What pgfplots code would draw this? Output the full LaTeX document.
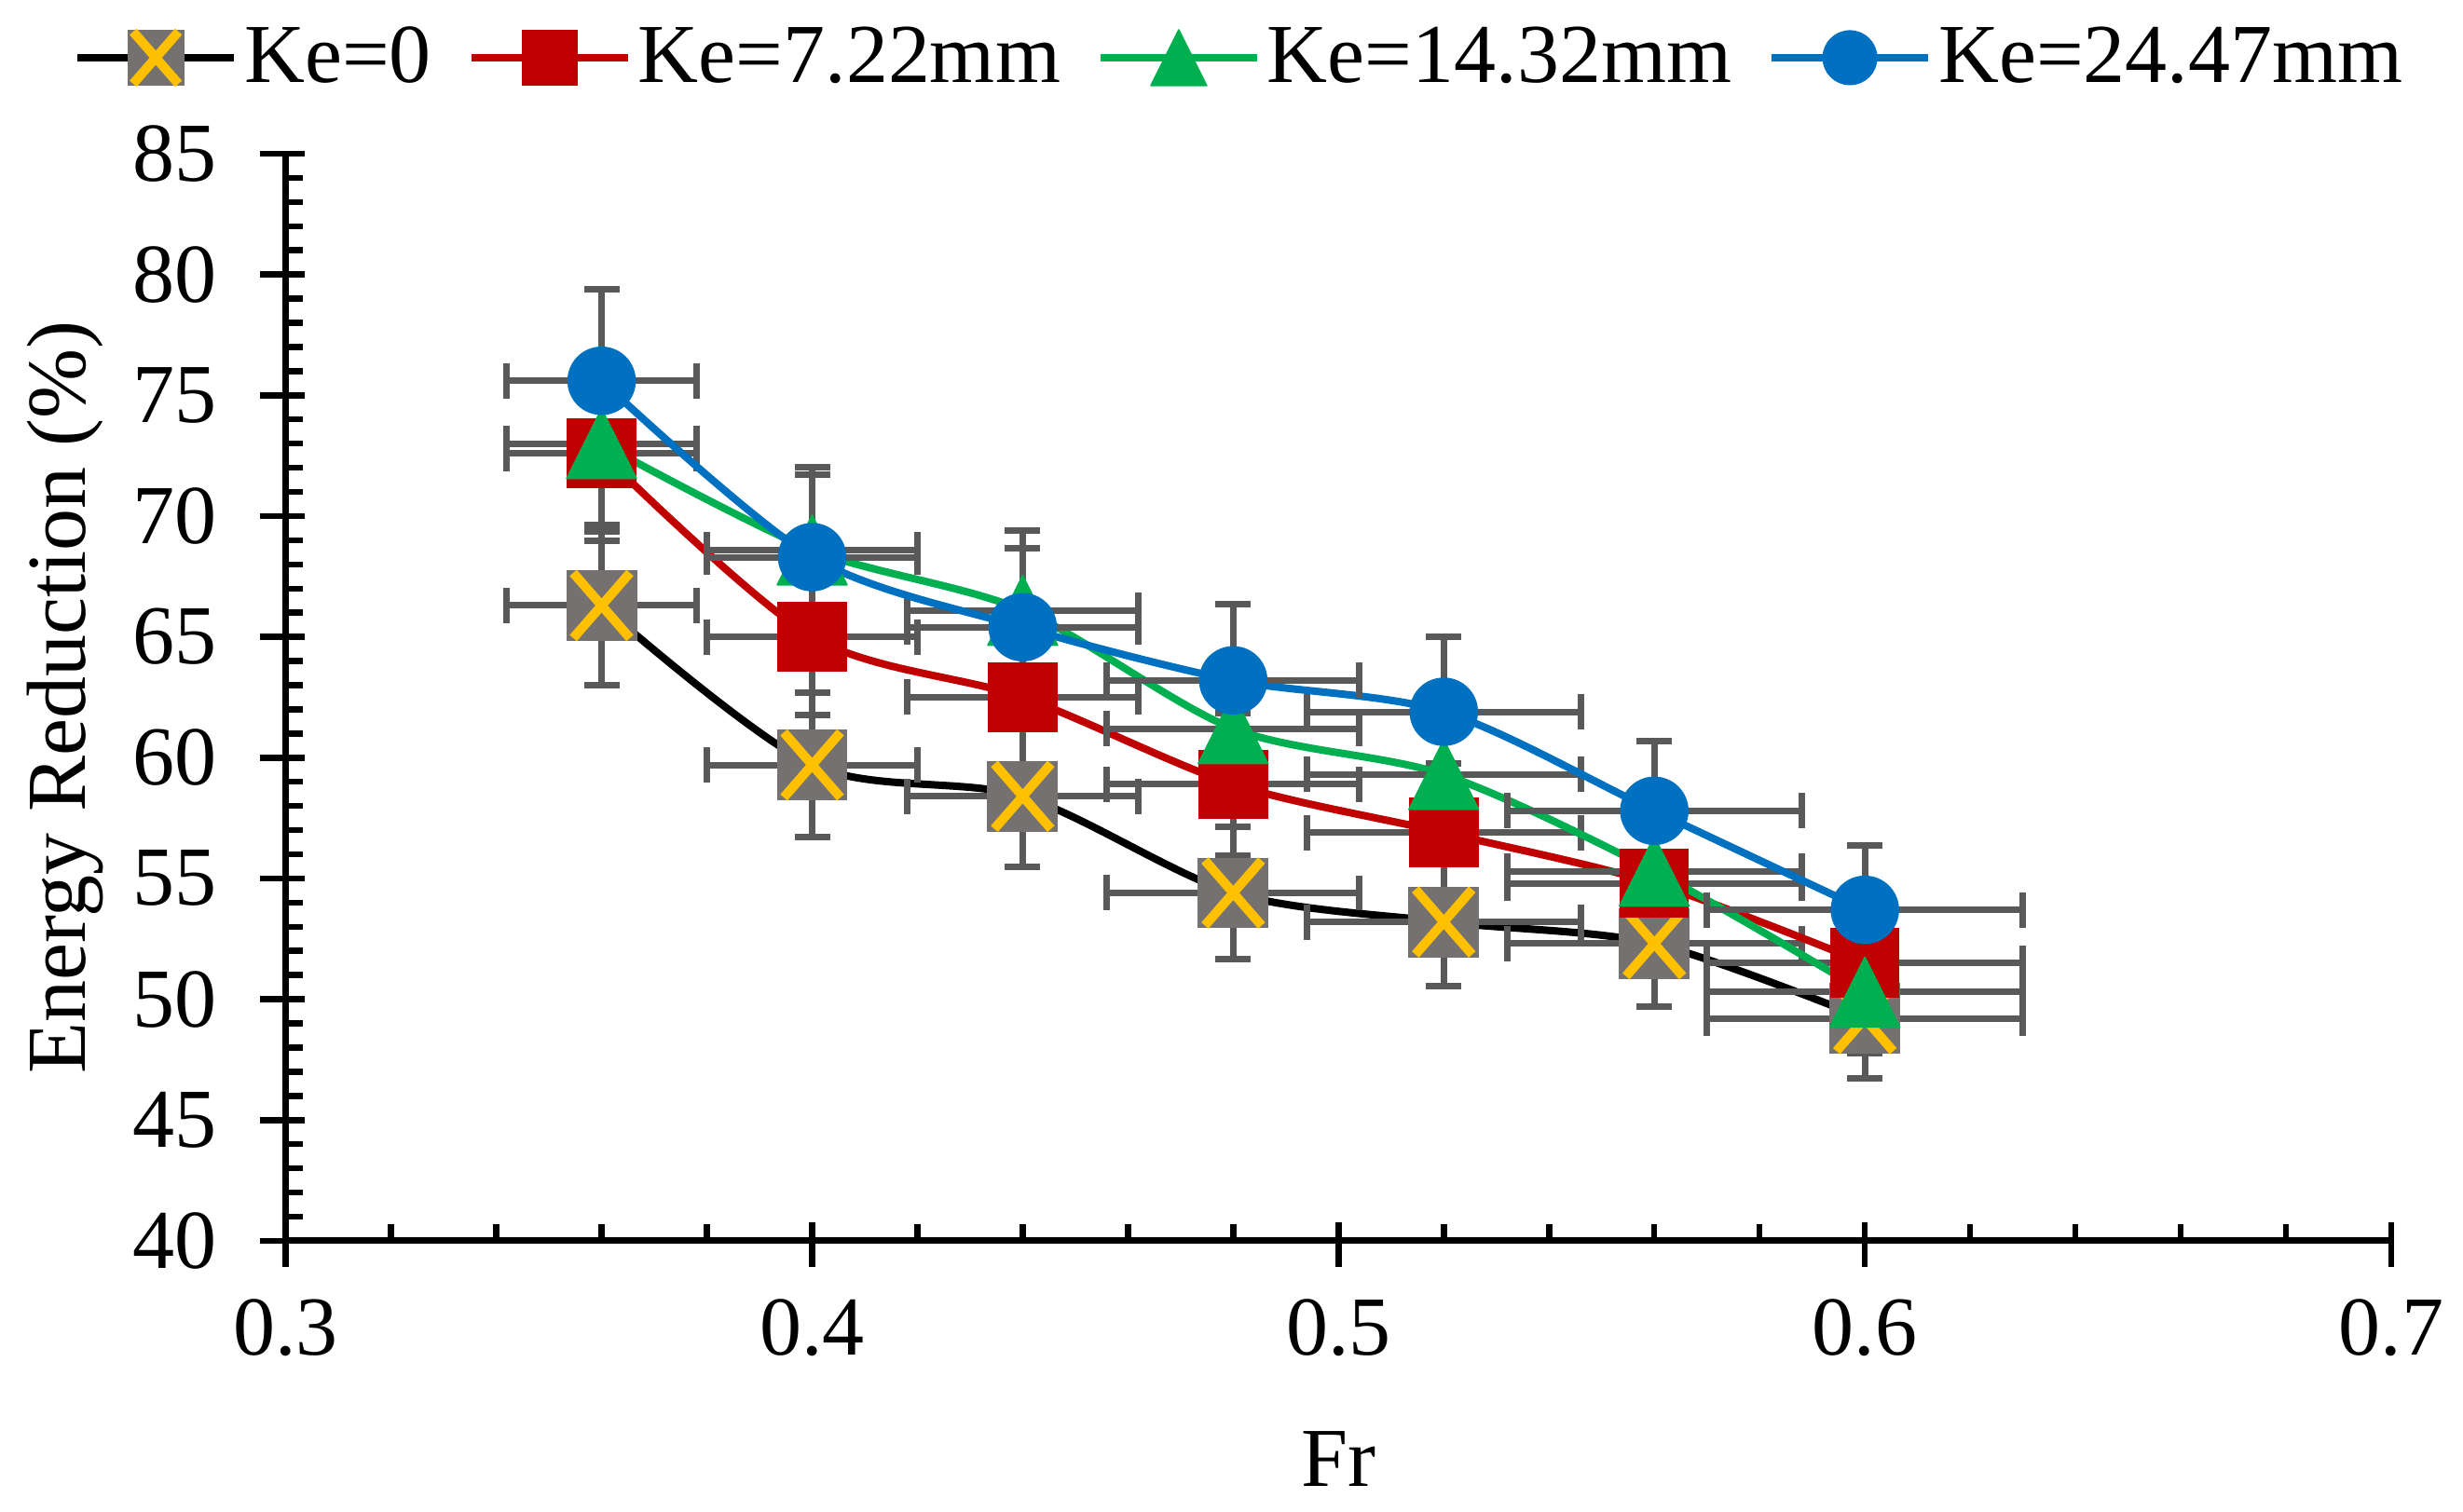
\documentclass[border=0pt]{standalone}
\usepackage{fontspec}
\setmainfont{Liberation Serif}
\usepackage{pgfplots}
\pgfplotsset{compat=1.18}
\definecolor{kred}{HTML}{C00000}
\definecolor{kgreen}{HTML}{00B050}
\definecolor{kblue}{HTML}{0070C0}
\definecolor{kgray}{HTML}{767171}
\definecolor{kyellow}{HTML}{FFC000}
\definecolor{errgray}{HTML}{595959}
\pgfdeclareplotmark{sqx}{%
  \pgfsetcornersarced{\pgfpoint{1.3pt}{1.3pt}}%
  \pgfpathrectangle{\pgfpoint{-\pgfplotmarksize}{-\pgfplotmarksize}}{\pgfpoint{2\pgfplotmarksize}{2\pgfplotmarksize}}%
  \pgfsetfillcolor{kgray}\pgfusepathqfill
  \pgfsetstrokecolor{kyellow}\pgfsetlinewidth{2pt}\pgfsetbuttcap
  \pgfpathmoveto{\pgfpoint{-0.8\pgfplotmarksize}{-0.92\pgfplotmarksize}}%
  \pgfpathlineto{\pgfpoint{0.8\pgfplotmarksize}{0.92\pgfplotmarksize}}%
  \pgfpathmoveto{\pgfpoint{-0.8\pgfplotmarksize}{0.92\pgfplotmarksize}}%
  \pgfpathlineto{\pgfpoint{0.8\pgfplotmarksize}{-0.92\pgfplotmarksize}}%
  \pgfusepathqstroke}
\pgfdeclareplotmark{tri}{%
  \pgfpathmoveto{\pgfpoint{0pt}{\pgfplotmarksize}}%
  \pgfpathlineto{\pgfpoint{-\pgfplotmarksize}{-\pgfplotmarksize}}%
  \pgfpathlineto{\pgfpoint{\pgfplotmarksize}{-\pgfplotmarksize}}%
  \pgfpathclose\pgfusepathqfillstroke}
\begin{document}
\begin{tikzpicture}
\begin{axis}[
  at={(0pt,0pt)}, anchor=south west,
  scale only axis, width=451.9pt, height=233.4pt,
  xmin=0.3, xmax=0.7, ymin=40, ymax=85,
  axis lines=left,
  axis line style={-, line width=1.4pt, black},
  xtick={0.3,0.4,0.5,0.6,0.7},
  xticklabels={0.3,0.4,0.5,0.6,0.7},
  ytick={40,45,50,55,60,65,70,75,80,85},
  yticklabels={40,45,50,55,60,65,70,75,80,85},
  minor x tick num=4, minor y tick num=4,
  tick align=inside,
  major tick length=4pt, minor tick length=3.6pt,
  tick style={line width=1.3pt, black},
  extra x ticks={0.3,0.4,0.5,0.6,0.7}, extra x tick labels={},
  extra x tick style={tick align=outside, major tick length=5.6pt},
  extra y ticks={40,45,50,55,60,65,70,75,80,85}, extra y tick labels={},
  extra y tick style={tick align=outside, major tick length=5.6pt},
  tick label style={font=\fontsize{18}{21}\selectfont},
  xticklabel style={yshift=-9pt},
  yticklabel style={xshift=-11.3pt},
  xlabel={Fr}, ylabel={Energy Reduction (\%)},
  every axis x label/.style={at={(axis description cs:0.5,-0.2005)}, anchor=center, font=\fontsize{18}{21}\selectfont},
  every axis y label/.style={at={(axis description cs:-0.1047,0.5)}, rotate=90, anchor=center, font=\fontsize{18}{21}\selectfont},
  clip=false,
  legend columns=4,
  legend style={at={(axis description cs:-0.1007,1.0883)}, anchor=west, draw=none, fill=none,
    inner sep=0pt, outer sep=0pt, font=\fontsize{18}{21}\selectfont,
    nodes={inner xsep=1.4pt, inner ysep=0pt},
    /tikz/every even column/.append style={column sep=6.4pt}},
  legend cell align=left,
  legend image code/.code={\draw[mark repeat=2,mark phase=2,every mark/.append style={scale=0.8}] plot coordinates {(0pt,0pt) (16.8pt,0pt) (33.6pt,0pt)};},
  error bars/x dir=both, error bars/x fixed relative=0.05,
  error bars/y dir=both, error bars/y fixed relative=0.05,
  error bars/error bar style={line width=1.4pt, draw=errgray},
  error bars/error mark options={rotate=90, mark size=3.8pt, line width=1.4pt, draw=errgray},
]
\addplot[black, line width=1.6pt, smooth, mark=sqx, mark size=7.6pt] coordinates {
(0.36,66.3) (0.40,59.7) (0.44,58.4) (0.48,54.4) (0.52,53.2) (0.56,52.3) (0.60,49.2)};
\addlegendentry{Ke=0}
\addplot[kred, line width=1.6pt, smooth, mark=square*, mark size=7.3pt, mark options={fill=kred, line width=0.3pt}] coordinates {
(0.36,72.6) (0.40,65.0) (0.44,62.5) (0.48,58.9) (0.52,56.9) (0.56,54.8) (0.60,51.5)};
\addlegendentry{Ke=7.22mm}
\addplot[kgreen, line width=1.6pt, smooth, mark=tri, mark size=7.5pt, mark options={fill=kgreen, line width=0.3pt, line join=round}] coordinates {
(0.36,73.0) (0.40,68.6) (0.44,66.1) (0.48,61.2) (0.52,59.3) (0.56,55.3) (0.60,50.3)};
\addlegendentry{Ke=14.32mm}
\addplot[kblue, line width=1.6pt, smooth, mark=*, mark size=7.2pt, mark options={fill=kblue, line width=0.3pt}] coordinates {
(0.36,75.6) (0.40,68.3) (0.44,65.4) (0.48,63.2) (0.52,61.9) (0.56,57.8) (0.60,53.7)};
\addlegendentry{Ke=24.47mm}
\end{axis}
\pgfresetboundingbox
\path[use as bounding box] (-61.34pt,-58.2pt) rectangle (467.3pt,266.4pt);
\end{tikzpicture}
\end{document}
